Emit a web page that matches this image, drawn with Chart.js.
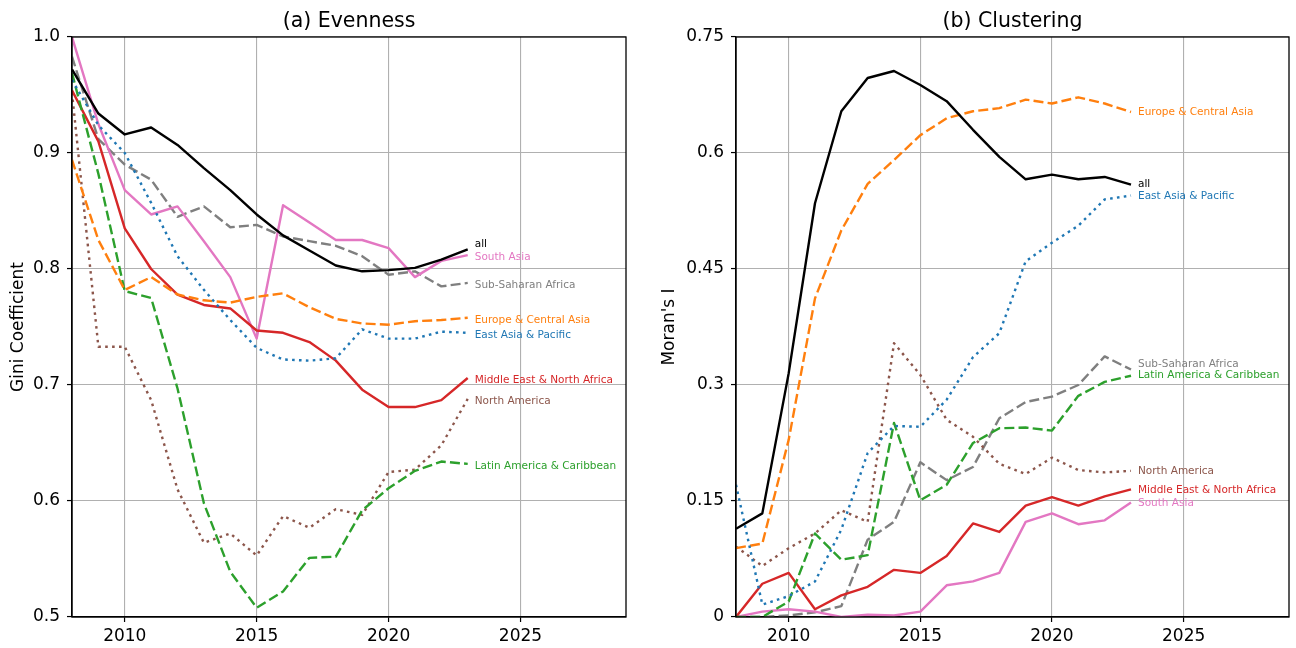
<!DOCTYPE html>
<html>
<head>
<meta charset="utf-8">
<script src="https://cdn.jsdelivr.net/npm/chart.js@4.4.1/dist/chart.umd.min.js"></script>
<style>
  html, body { margin: 0; padding: 0; background: #fff; }
  #wrap { position: relative; width: 1296px; height: 648px; overflow: hidden; }
  canvas { position: absolute; top: 0; }
</style>
</head>
<body>
<div id="wrap">
  <canvas id="even" width="648" height="648" style="left:0"></canvas>
  <canvas id="clus" width="648" height="648" style="left:648px"></canvas>
</div>
<script>
// Years covered by both panels
const years = [2008, 2009, 2010, 2011, 2012, 2013, 2014, 2015, 2016, 2017, 2018, 2019, 2020, 2021, 2022, 2023];

// Region names (drawing order)
const regions = ['all', 'East Asia & Pacific', 'Europe & Central Asia', 'Latin America & Caribbean',
  'Middle East & North Africa', 'North America', 'South Asia', 'Sub-Saharan Africa'];

// (a) Evenness — Gini coefficient
const evAll          = [0.972, 0.934, 0.916, 0.922, 0.907, 0.887, 0.868, 0.847, 0.829, 0.816, 0.803, 0.798, 0.799, 0.801, 0.808, 0.817];
const evEastAsia     = [0.963, 0.924, 0.900, 0.857, 0.811, 0.782, 0.756, 0.732, 0.722, 0.721, 0.723, 0.748, 0.740, 0.740, 0.746, 0.745];
const evEurope       = [0.894, 0.825, 0.782, 0.793, 0.778, 0.773, 0.771, 0.776, 0.779, 0.767, 0.757, 0.753, 0.752, 0.755, 0.756, 0.758];
const evLatin        = [0.969, 0.882, 0.781, 0.775, 0.697, 0.598, 0.539, 0.508, 0.522, 0.551, 0.552, 0.592, 0.611, 0.626, 0.634, 0.632];
const evMiddleEast   = [0.954, 0.910, 0.835, 0.800, 0.778, 0.769, 0.766, 0.747, 0.745, 0.737, 0.721, 0.696, 0.681, 0.681, 0.687, 0.706];
const evNorthAmerica = [0.952, 0.733, 0.733, 0.687, 0.610, 0.564, 0.572, 0.553, 0.587, 0.577, 0.593, 0.588, 0.625, 0.627, 0.648, 0.688];
const evSouthAsia    = [1.000, 0.925, 0.868, 0.847, 0.854, 0.824, 0.793, 0.740, 0.855, 0.840, 0.825, 0.825, 0.818, 0.793, 0.807, 0.812];
const evSubSaharan   = [0.983, 0.912, 0.890, 0.877, 0.845, 0.854, 0.836, 0.838, 0.828, 0.824, 0.820, 0.811, 0.795, 0.798, 0.785, 0.788];
// Where each end label sits on the Gini axis
const evLabelAt      = [0.821, 0.743, 0.756, 0.630, 0.704, 0.686, 0.810, 0.786];

// (b) Clustering — Moran's I
const clAll          = [0.114, 0.134, 0.315, 0.535, 0.654, 0.697, 0.706, 0.688, 0.667, 0.630, 0.595, 0.566, 0.572, 0.566, 0.569, 0.559];
const clEastAsia     = [0.171, 0.016, 0.027, 0.046, 0.113, 0.212, 0.247, 0.246, 0.281, 0.336, 0.367, 0.460, 0.484, 0.506, 0.540, 0.545];
const clEurope       = [0.089, 0.095, 0.229, 0.412, 0.500, 0.560, 0.591, 0.623, 0.645, 0.654, 0.658, 0.669, 0.664, 0.672, 0.664, 0.653];
const clLatin        = [0.000, 0.000, 0.020, 0.108, 0.074, 0.080, 0.251, 0.151, 0.171, 0.225, 0.244, 0.245, 0.241, 0.286, 0.304, 0.312];
const clMiddleEast   = [0.000, 0.043, 0.057, 0.010, 0.028, 0.039, 0.061, 0.057, 0.079, 0.121, 0.110, 0.144, 0.155, 0.144, 0.156, 0.165];
const clNorthAmerica = [0.091, 0.066, 0.089, 0.108, 0.138, 0.123, 0.354, 0.313, 0.255, 0.233, 0.198, 0.185, 0.206, 0.190, 0.187, 0.189];
const clSouthAsia    = [0.000, 0.007, 0.010, 0.007, 0.000, 0.003, 0.002, 0.007, 0.041, 0.046, 0.057, 0.123, 0.134, 0.120, 0.125, 0.148];
const clSubSaharan   = [0.000, 0.000, 0.002, 0.006, 0.014, 0.100, 0.123, 0.200, 0.177, 0.194, 0.257, 0.278, 0.285, 0.300, 0.337, 0.320];
// Where each end label sits on the Moran's I axis
const clLabelAt      = [0.560, 0.544, 0.653, 0.312, 0.164, 0.189, 0.147, 0.327];

// Axis ticks
const xTicks = [2010, 2015, 2020, 2025];
const evTicks = [0.5, 0.6, 0.7, 0.8, 0.9, 1.0];
const evTickLabels = ['0.5', '0.6', '0.7', '0.8', '0.9', '1.0'];
const clTicks = [0, 0.15, 0.3, 0.45, 0.6, 0.75];
const clTickLabels = ['0', '0.15', '0.3', '0.45', '0.6', '0.75'];

// Line styles per region
const FONT = '"DejaVu Sans", "Liberation Sans", sans-serif';
const DASH = [10, 4.2];
const DOT = [2.6, 4.3];
const styles = [
  { color: '#000000', dash: [] },
  { color: '#1f77b4', dash: DOT },
  { color: '#ff7f0e', dash: DASH },
  { color: '#2ca02c', dash: DASH },
  { color: '#d62728', dash: [] },
  { color: '#8c564b', dash: DOT },
  { color: '#e377c2', dash: [] },
  { color: '#7f7f7f', dash: DASH }
];

function buildDatasets(series) {
  return series.map((vals, i) => ({
    label: regions[i],
    data: years.map((yr, k) => ({ x: yr, y: vals[k] })),
    borderColor: styles[i].color,
    borderDash: styles[i].dash,
    borderWidth: 2.4,
    borderCapStyle: 'butt',
    borderJoinStyle: 'round',
    pointRadius: 0,
    tension: 0,
    fill: false
  }));
}

// Frame, titles and end-of-line labels
const decor = {
  id: 'decor',
  afterDatasetsDraw(chart, args, opts) {
    const { ctx, chartArea: a, scales } = chart;
    const xs = scales.x, ys = scales.y;
    ctx.save();
    // end labels
    ctx.font = '10.5px ' + FONT;
    ctx.textAlign = 'left';
    ctx.textBaseline = 'middle';
    const lx = xs.getPixelForValue(years[years.length - 1]) + 7;
    opts.labelAt.forEach((v, i) => {
      ctx.fillStyle = styles[i].color;
      ctx.fillText(regions[i], lx, ys.getPixelForValue(v));
    });
    // spines
    ctx.strokeStyle = '#000';
    ctx.lineWidth = 1.3;
    ctx.strokeRect(a.left, a.top, a.right - a.left, a.bottom - a.top);
    // panel title
    ctx.fillStyle = '#000';
    ctx.font = '20.5px ' + FONT;
    ctx.textAlign = 'center';
    ctx.textBaseline = 'alphabetic';
    ctx.fillText(opts.title, (a.left + a.right) / 2, a.top - 10);
    // y axis title
    ctx.font = '17px ' + FONT;
    ctx.translate(opts.yTitleX, (a.top + a.bottom) / 2);
    ctx.rotate(-Math.PI / 2);
    ctx.textBaseline = 'middle';
    ctx.fillText(opts.yTitle, 0, 0);
    ctx.restore();
  }
};

function makeChart(id, series, yMin, yMax, yTickVals, yTickText, cfg) {
  return new Chart(document.getElementById(id), {
    type: 'line',
    data: { datasets: buildDatasets(series) },
    options: {
      responsive: false,
      animation: false,
      devicePixelRatio: 1,
      layout: { padding: { top: 37, right: cfg.padRight, left: 0, bottom: 0 } },
      plugins: {
        legend: { display: false },
        tooltip: { enabled: false },
        decor: { title: cfg.title, yTitle: cfg.yTitle, yTitleX: cfg.yTitleX, labelAt: cfg.labelAt }
      },
      scales: {
        x: {
          type: 'linear', min: 2008, max: 2029,
          afterBuildTicks: s => { s.ticks = xTicks.map(v => ({ value: v })); },
          afterFit: s => { s.height = 31; },
          ticks: { font: { family: FONT, size: 17 }, color: '#000', padding: 4, maxRotation: 0,
                   callback: v => String(v) },
          grid: { color: '#b0b0b0', lineWidth: 1.1, tickColor: '#000', tickLength: 5, tickWidth: 1.2 },
          border: { color: '#000', width: 1.3 }
        },
        y: {
          type: 'linear', min: yMin, max: yMax,
          afterBuildTicks: s => { s.ticks = yTickVals.map(v => ({ value: v })); },
          afterFit: s => { s.width = cfg.axisWidth; },
          ticks: { font: { family: FONT, size: 17 }, color: '#000', padding: 7,
                   callback: (v, i) => yTickText[i] },
          grid: { color: '#b0b0b0', lineWidth: 1.1, tickColor: '#000', tickLength: 5, tickWidth: 1.2 },
          border: { color: '#000', width: 1.3 }
        }
      }
    },
    plugins: [decor]
  });
}

makeChart('even',
  [evAll, evEastAsia, evEurope, evLatin, evMiddleEast, evNorthAmerica, evSouthAsia, evSubSaharan],
  0.5, 1.0, evTicks, evTickLabels,
  { title: '(a) Evenness', yTitle: 'Gini Coefficient', yTitleX: 19, axisWidth: 72, padRight: 22, labelAt: evLabelAt });

makeChart('clus',
  [clAll, clEastAsia, clEurope, clLatin, clMiddleEast, clNorthAmerica, clSouthAsia, clSubSaharan],
  0, 0.75, clTicks, clTickLabels,
  { title: '(b) Clustering', yTitle: "Moran's I", yTitleX: 22, axisWidth: 88, padRight: 7, labelAt: clLabelAt });
</script>
</body>
</html>
